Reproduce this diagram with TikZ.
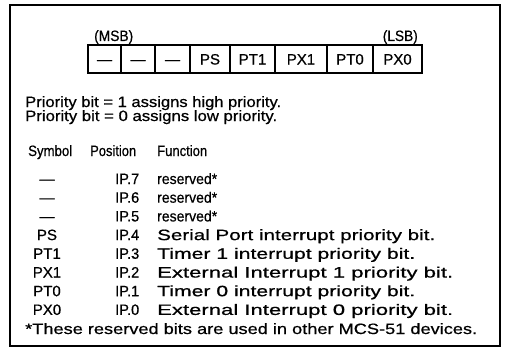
\documentclass[tikz,border=0pt]{standalone}
\usepackage{fontspec}
\usepackage{graphicx}
\setmainfont[FakeBold=0.6]{Liberation Sans}
\newcommand\fitw[2]{\resizebox{#1pt}{\height}{#2}}
\begin{document}
\begin{tikzpicture}[x=1pt,y=-1pt,
  txt/.style={inner sep=0pt,font=\fontsize{15}{15}\selectfont},
  lt/.style={txt,anchor=base west},
  ct/.style={txt,anchor=base},
  cell/.style={draw,line width=1.1pt}]
\useasboundingbox (0,0) rectangle (505,353);
\draw[line width=1.6pt] (10,5) rectangle (500,346);
% register
\node[lt] (msb) at (94,41) {\fitw{39}{(MSB)}};
\node[txt,anchor=base east] (lsb) at (418,41) {\fitw{35}{(LSB)}};
\foreach \a/\b/\t [count=\i] in {88/121/---,121/155/---,155/190/---,190/230/PS,230/275/PT1,275/327/PX1,327/373/PT0,373/422/PX0}{
  \draw[cell] (\a,45) rectangle (\b,73);
  \node[ct] (c\i) at ({(\a+\b)/2},64.5) {\t};
}
\node[lt] (p1) at (25,107) {\fitw{256}{Priority bit = 1 assigns high priority.}};
\node[lt] (p0) at (25,121) {\fitw{252}{Priority bit = 0 assigns low priority.}};
\node[lt] (hs) at (28,156) {\fitw{44}{Symbol}};
\node[lt] (hp) at (90,156) {\fitw{46}{Position}};
\node[lt] (hf) at (157,156) {\fitw{50}{Function}};
\foreach \s/\p/\f/\w [count=\i from 0] in {---/IP.7/reserved*/60,---/IP.6/reserved*/60,---/IP.5/reserved*/60,PS/IP.4/Serial Port interrupt priority bit./278,PT1/IP.3/Timer 1 interrupt priority bit./258,PX1/IP.2/External Interrupt 1 priority bit./296,PT0/IP.1/Timer 0 interrupt priority bit./258,PX0/IP.0/External Interrupt 0 priority bit./296}{
  \node[ct] (s\i) at (47,{184+18.7*\i}) {\s};
  \node[lt] (q\i) at (115,{184+18.7*\i}) {\fitw{24}{\p}};
  \node[lt] (f\i) at (157,{184+18.7*\i}) {\fitw{\w}{\f}};
}
\node[lt] (fn) at (25,334) {\fitw{452}{*These reserved bits are used in other MCS-51 devices.}};
\end{tikzpicture}
\end{document}
